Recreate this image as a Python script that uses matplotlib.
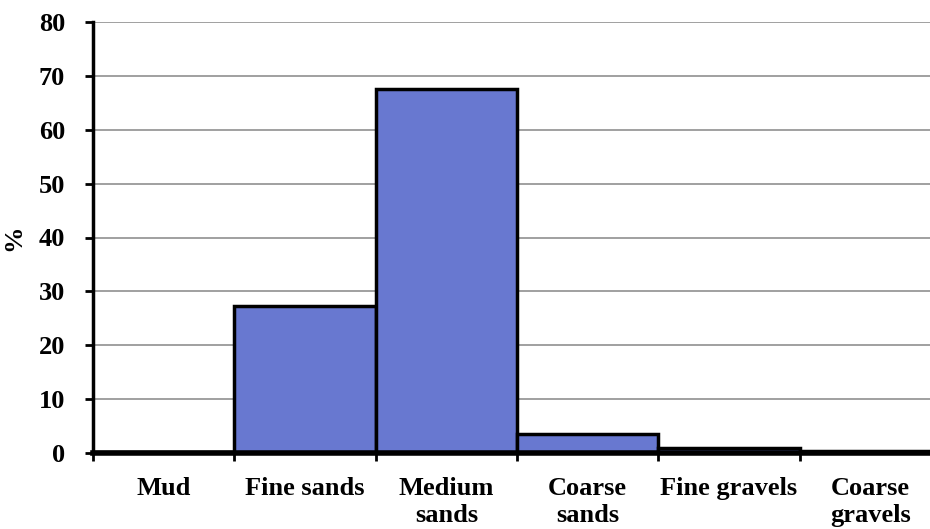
import matplotlib
matplotlib.use("Agg")
import matplotlib.pyplot as plt
import numpy as np

categories = ["Mud", "Fine sands", "Medium\nsands", "Coarse\nsands", "Fine gravels", "Coarse\ngravels"]
values = [0.1, 27.3, 67.5, 3.5, 1.0, 0.4]

plt.rcParams['font.family'] = ['Liberation Serif', 'DejaVu Serif']
plt.rcParams['font.weight'] = 'bold'

fig = plt.figure(figsize=(9.3, 5.29), dpi=100)
W, H = 930, 529
x0, x1 = 93, 941
y0, y1 = 453, 22
ax = fig.add_axes([x0 / W, 1 - y0 / H, (x1 - x0) / W, (y0 - y1) / H])

FS = 19
x = np.arange(len(categories))
ax.set_axisbelow(True)
ax.yaxis.grid(True, color='#999999', linewidth=1.3)
ax.bar(x, values, width=1.0, color='#6878D0', edgecolor='black', linewidth=2.5, zorder=3)

ax.set_xlim(-0.5, len(categories) - 0.5)
ax.set_ylim(0, 80)
ax.set_yticks(np.arange(0, 81, 10))
ax.set_xticks(np.arange(-0.5, len(categories) - 0.4, 1.0))
ax.set_xticklabels([])
ax.set_xticks(x, minor=True)
ax.set_xticklabels(categories, minor=True, fontsize=FS, fontweight='bold', va='top', linespacing=1.25)
ax.tick_params(axis='x', which='minor', length=0, pad=17)
ax.tick_params(axis='x', which='major', length=6, width=2, direction='out')
ax.tick_params(axis='y', length=6, width=2, direction='out', labelsize=FS, pad=14)
for lab in ax.get_yticklabels():
    lab.set_fontweight('bold')

for s in ['top', 'right']:
    ax.spines[s].set_visible(False)
ax.spines['left'].set_linewidth(2.5)
ax.spines['bottom'].set_linewidth(4)
ax.spines['bottom'].set_zorder(4)

ax.set_ylabel('%', fontsize=FS, fontweight='bold', labelpad=10)

fig.savefig('out.png', dpi=100)
